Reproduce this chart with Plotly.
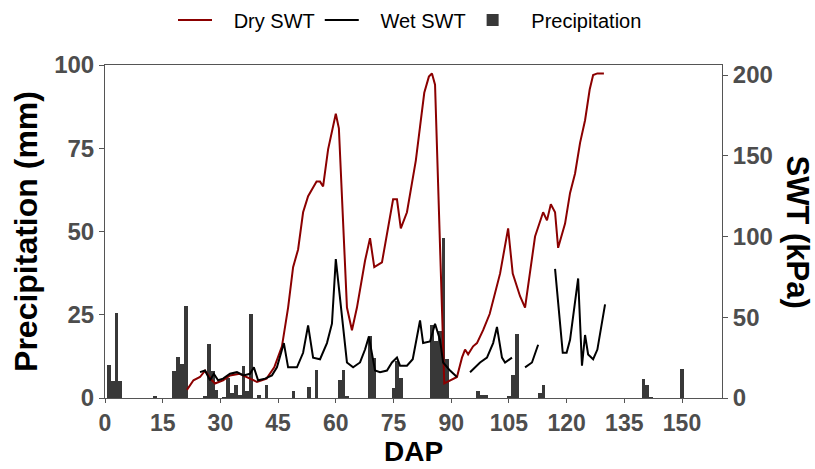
import plotly.graph_objects as go

# Daily precipitation (mm) by days after planting
precip_dap = [1, 2, 3, 4, 13, 18, 19, 20, 21, 26, 27, 28, 29, 31, 32, 33, 34, 35, 36, 37, 38,
              40, 42, 49, 53, 55, 61, 62, 63, 69, 70, 75, 76, 77, 85, 86, 87, 88, 89,
              97, 98, 99, 105, 106, 107, 113, 114, 140, 141, 142, 150]
precip_mm = [10, 5, 25.5, 5, 0.5, 8, 12.3, 10.2, 27.5, 0.5, 16.2, 8, 2.5, 0.3, 6, 1.5, 4, 0.8, 9.6, 2, 25.2,
             1, 4, 2, 3.3, 8.5, 5.5, 8.5, 0.6, 18.5, 12, 3, 11, 6, 22, 17, 20, 48, 11.7,
             2, 1, 0.8, 0.7, 7, 19.2, 1.5, 4, 5.7, 4, 0.3, 8.7]

# Soil water tension (kPa), dry treatment
dry_dap = [21.3, 23, 24.7, 26, 27.8, 28.6, 30.7, 32.5, 35, 37.7, 39.5, 42, 44, 46, 47.6, 48.9,
           50.2, 51.5, 52.8, 55, 55.9, 56.7, 58, 60, 60.8, 62.9, 64.2, 65.5, 67.6, 68.9, 70,
           72, 73.6, 74.9, 75.9, 76.9, 78.5, 80, 80.8, 81.9, 83, 84.2, 85, 85.8, 87, 88.2,
           89, 91.5, 92.8, 93.6, 94.4, 95.7, 96.7, 98.3, 100, 100.9, 102.7, 104.8, 106,
           107.9, 109.2, 111.8, 113, 113.9, 114.9, 115.9, 117, 117.8, 119.6, 120.9, 122.2,
           123.5, 124.8, 126, 126.9, 128, 129.7]
dry_swt = [5, 11, 13, 17, 11, 9, 11, 14, 15, 12, 10, 12, 19, 32, 56, 81,
           92, 115, 125, 134, 134, 131, 154, 176, 167, 56, 42, 56, 85, 99, 81,
           84, 106, 123, 123, 105, 115, 137, 147, 168, 189, 199, 201, 194, 106, 9,
           10, 13, 25, 30, 27, 32, 34, 42, 52, 61, 77, 105, 77,
           63, 56, 100, 108, 115, 110, 120, 115, 93, 108, 127, 139,
           158, 172, 191, 200, 201, 201]

# Soil water tension (kPa), wet treatment; None marks missing readings
wet_dap = [24.7, 26, 27.3, 28.3, 29.4, 30.7, 32.5, 34.3, 36, 37.7, 38.7, 39.8, 41.6, 43.4, 44.7,
           46.5, 47.6, 49.9, 51.5, 52.8, 54.1, 55.9, 57.7, 59, 60, 62.9, 64.5, 66.3, 67.6,
           68.6, 70.2, 71.5, 73.3, 74.6, 75.9, 76.7, 78.5, 80, 81.9, 82.7, 84.5, 85.8, 87.1,
           87.9, 89.7, 91.5, 93,
           94.9, 97.5, 99.3, 100.9, 101.9, 103.2, 104, 105.8, 107.5,
           109.2, 111, 112.6, 115,
           117, 119, 120, 120.9, 123, 124, 124.8, 125.6, 126.9, 128, 130]
wet_swt = [16, 17, 11, 15, 11, 12, 15, 16, 14, 15, 19, 11, 12, 14, 19,
           34, 19, 19, 28, 45, 25, 24, 34, 46, 86, 22, 19, 22, 30,
           38, 17, 16, 17, 22, 25, 20, 20, 24, 48, 34, 35, 46, 36,
           22, 17, 13, None,
           16, 22, 25, 34, 44, 25, 22, 25, None,
           19, 22, 33, None,
           80, 28, 28, 36, 74, 20, 39, 27, 24, 30, 58]

x_ticks = [0, 15, 30, 45, 60, 75, 90, 105, 120, 135, 150]
left_ticks = [0, 25, 50, 75, 100]
right_ticks = [0, 50, 100, 150, 200]

AXIS_GRAY = "#555555"
LABEL_GRAY = "#4d4d4d"
FONT = "Liberation Sans, Arial, sans-serif"
PAD = "\u00a0\u00a0\u00a0"  # breathing room between legend symbol and label

fig = go.Figure()

fig.add_trace(go.Scatter(x=dry_dap, y=dry_swt, mode="lines", name=PAD + "Dry SWT",
                         line=dict(color="#8b0000", width=2), yaxis="y2"))
fig.add_trace(go.Scatter(x=wet_dap, y=wet_swt, mode="lines", name=PAD + "Wet SWT",
                         line=dict(color="#000000", width=2), yaxis="y2",
                         connectgaps=False))
fig.add_trace(go.Bar(x=precip_dap, y=precip_mm, name=PAD + "Precipitation",
                     marker=dict(color="#383838", line=dict(width=0)),
                     width=1.0, yaxis="y"))

fig.update_layout(
    width=815, height=469,
    margin=dict(l=105, r=93, t=65, b=71, autoexpand=False),
    plot_bgcolor="white", paper_bgcolor="white",
    font=dict(family=FONT),
    showlegend=True,
    legend=dict(orientation="h", x=(173 - 105) / 617, xanchor="left",
                y=1.135, yanchor="middle",
                font=dict(size=20, color="#000000", family=FONT),
                traceorder="normal", itemwidth=34,
                bgcolor="rgba(0,0,0,0)"),
    xaxis=dict(range=[0, 160.4], tickvals=x_ticks, ticks="outside", ticklen=4,
               tickcolor=AXIS_GRAY, showline=True, linecolor=AXIS_GRAY, linewidth=1,
               mirror=True, showgrid=False, zeroline=False,
               tickfont=dict(size=23, color=LABEL_GRAY, family=FONT, weight="bold")),
    yaxis=dict(range=[0, 100], tickvals=left_ticks, ticks="outside", ticklen=5,
               tickcolor=AXIS_GRAY, showline=True, linecolor=AXIS_GRAY, linewidth=1,
               showgrid=False, zeroline=False,
               tickfont=dict(size=24, color=LABEL_GRAY, family=FONT, weight="bold"),
               title=dict(text="<b>Precipitation (mm)</b>",
                          font=dict(size=32, color="#000000"), standoff=6)),
    yaxis2=dict(range=[0, 206.2], tickvals=right_ticks, ticks="outside", ticklen=5,
                tickcolor=AXIS_GRAY, showline=True, linecolor=AXIS_GRAY, linewidth=1,
                overlaying="y", side="right", showgrid=False, zeroline=False,
                tickfont=dict(size=24, color=LABEL_GRAY, family=FONT, weight="bold")),
    bargap=0,
)

# Axis titles placed as annotations for precise spacing
fig.add_annotation(text="<b>DAP</b>", xref="paper", yref="paper",
                   x=0.5, y=(398 - 451) / 333, xanchor="center", yanchor="middle",
                   showarrow=False, borderpad=0,
                   font=dict(size=28, color="#000000", family=FONT))
fig.add_annotation(text="<b>SWT (kPa)</b>", xref="paper", yref="paper",
                   x=(797 - 105) / 617, y=0.5, xanchor="center", yanchor="middle",
                   textangle=90, showarrow=False,
                   font=dict(size=31, color="#000000", family=FONT))

fig.write_html("out.html")
